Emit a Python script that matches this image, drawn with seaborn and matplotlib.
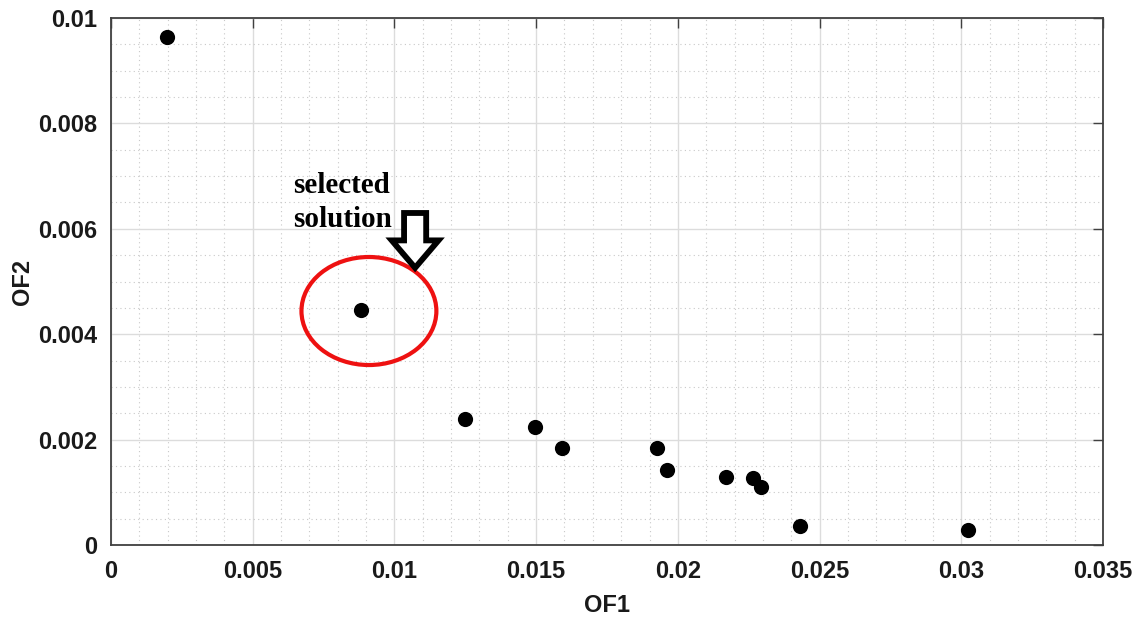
import numpy as np
import pandas as pd
import matplotlib
matplotlib.use("Agg")
import matplotlib.pyplot as plt
import seaborn as sns
from matplotlib.patches import Ellipse, FancyArrow
from matplotlib.ticker import MultipleLocator, FixedLocator, FixedFormatter

of1 = [0.00198, 0.00882, 0.01249, 0.01496, 0.01591, 0.01926, 0.01962, 0.0217, 0.02265, 0.02293, 0.02431, 0.03024]
of2 = [0.00964, 0.00446, 0.00239, 0.00224, 0.00184, 0.00184, 0.00142, 0.00129, 0.00127, 0.00110, 0.00036, 0.00028]
x_ticks = [0, 0.005, 0.01, 0.015, 0.02, 0.025, 0.03, 0.035]
x_labels = ["0", "0.005", "0.01", "0.015", "0.02", "0.025", "0.03", "0.035"]
y_ticks = [0, 0.002, 0.004, 0.006, 0.008, 0.01]
y_labels = ["0", "0.002", "0.004", "0.006", "0.008", "0.01"]
selected = (0.0091, 0.00444)

sns.set_style("white")
plt.rcParams['font.family'] = ['Liberation Sans', 'DejaVu Sans']

df = pd.DataFrame({"OF1": of1, "OF2": of2})
fig = plt.figure(figsize=(11.37, 6.21), dpi=100)
ax = fig.add_axes([111/1137, 1-545/621, (1103-111)/1137, (545-18)/621])

sns.scatterplot(data=df, x="OF1", y="OF2", ax=ax, color="black", s=120, edgecolor="black", linewidth=0, zorder=5)

ax.set_xlim(0, 0.035)
ax.set_ylim(0, 0.01)
ax.xaxis.set_major_locator(FixedLocator(x_ticks))
ax.xaxis.set_major_formatter(FixedFormatter(x_labels))
ax.yaxis.set_major_locator(FixedLocator(y_ticks))
ax.yaxis.set_major_formatter(FixedFormatter(y_labels))
ax.xaxis.set_minor_locator(MultipleLocator(0.001))
ax.yaxis.set_minor_locator(MultipleLocator(0.0005))

ax.grid(True, which="major", color="#dcdcdc", linewidth=1.0, linestyle="-")
ax.grid(True, which="minor", color="#c8c8c8", linewidth=0.8, linestyle=(0, (1, 3)))
ax.set_axisbelow(True)

for sp in ax.spines.values():
    sp.set_color("#404040")
    sp.set_linewidth(1.3)

ax.tick_params(axis="x", which="major", pad=11)
ax.tick_params(axis="y", which="major", pad=10)
ax.tick_params(which="major", direction="in", length=7, width=1.0, color="#404040",
               top=True, right=True, labelsize=17, labelcolor="#1a1a1a")
ax.tick_params(which="minor", length=0)
for lab in ax.get_xticklabels() + ax.get_yticklabels():
    lab.set_fontweight("bold")

ax.set_xlabel("OF1", fontsize=17, fontweight="bold", color="#1a1a1a")
ax.set_ylabel("OF2", fontsize=17, fontweight="bold", color="#1a1a1a")
ax.xaxis.set_label_coords(0.5, -0.114)
ax.yaxis.set_label_coords(-0.089, 0.5)
ax.xaxis.label.set_va("center")
ax.yaxis.label.set_va("center")

ell = Ellipse(selected, width=0.00476, height=0.00205, fill=False, edgecolor="#ee1111", linewidth=3.0, zorder=6)
ax.add_patch(ell)

arr = FancyArrow(0.01073, 0.00630, 0, -0.00104, width=0.00078, head_width=0.00165,
                 head_length=0.00052, length_includes_head=True,
                 facecolor="white", edgecolor="black", linewidth=4.2, zorder=7)
ax.add_patch(arr)

ax.text(0.00642, 0.00683, "selected", fontsize=21, fontweight="bold", color="black",
        family=["Liberation Serif", "DejaVu Serif"], va="center", ha="left", zorder=8)
ax.text(0.00642, 0.00617, "solution", fontsize=21, fontweight="bold", color="black",
        family=["Liberation Serif", "DejaVu Serif"], va="center", ha="left", zorder=8)

fig.savefig("out.png", dpi=100)
